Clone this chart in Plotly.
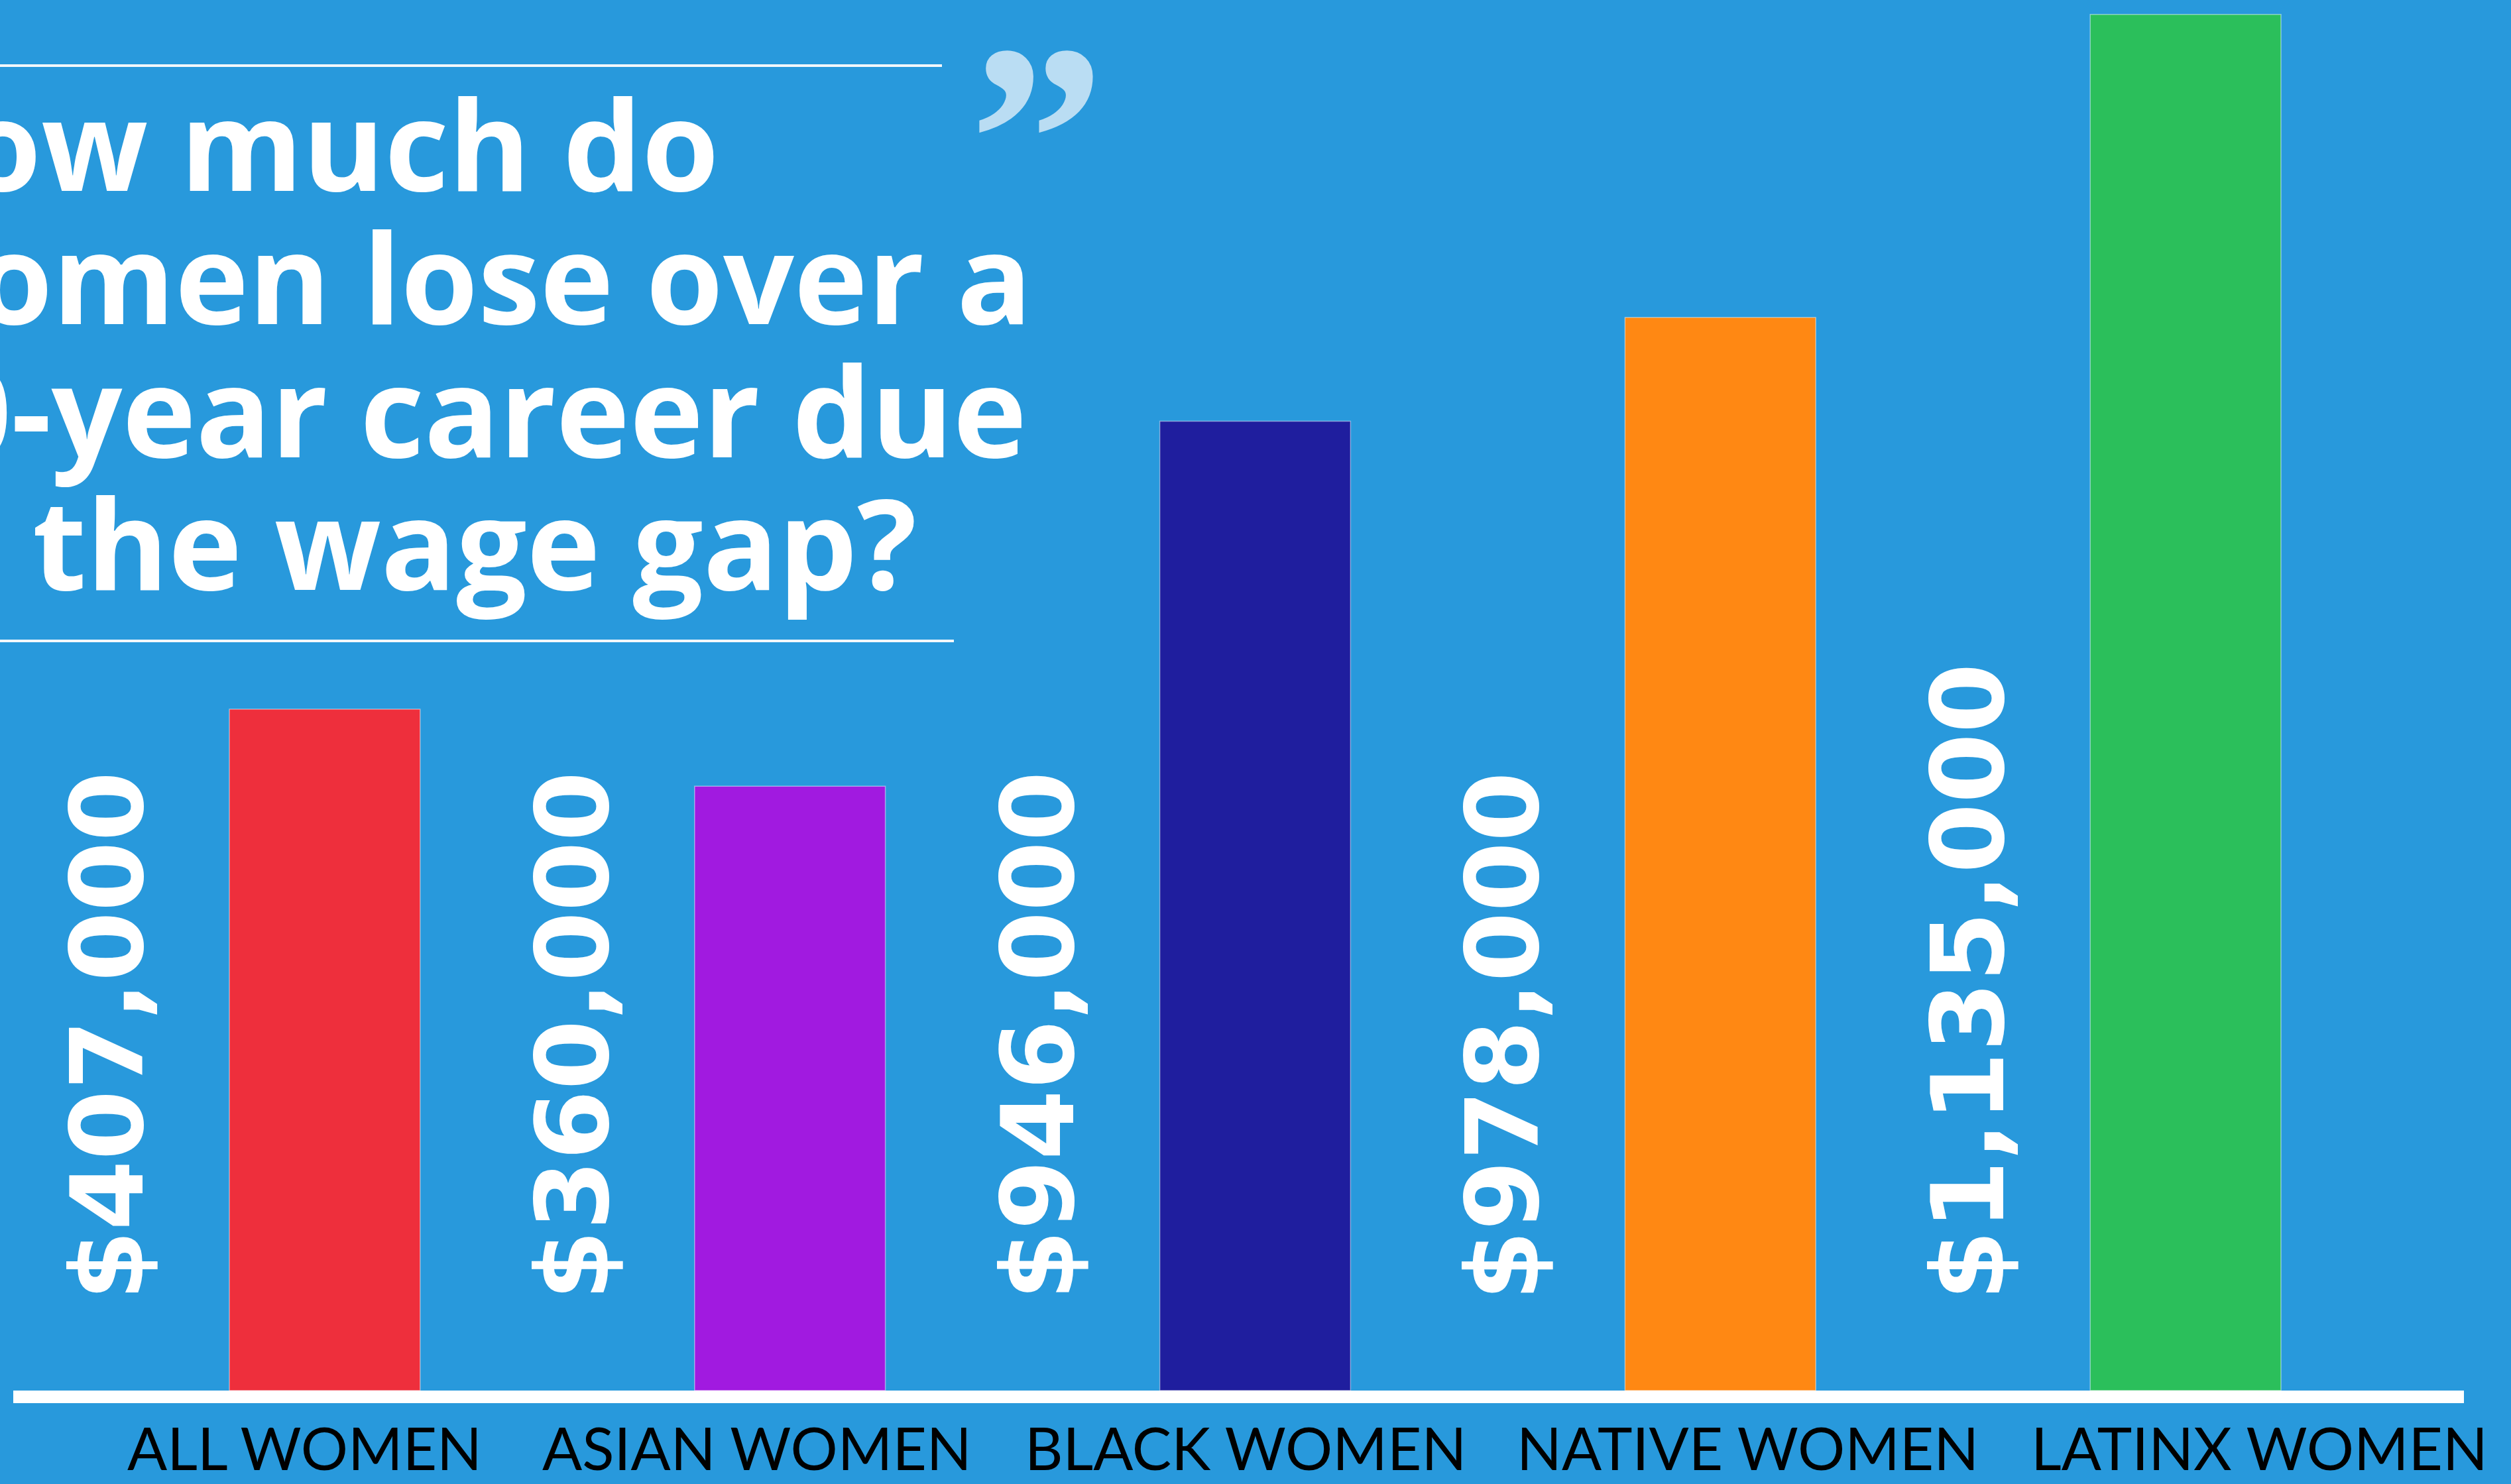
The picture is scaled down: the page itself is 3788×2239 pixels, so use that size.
import plotly.graph_objects as go

# ---------------- data ----------------
categories = ["ALL WOMEN", "ASIAN WOMEN", "BLACK WOMEN", "NATIVE WOMEN", "LATINX WOMEN"]
bar_heights = [407, 361, 579, 641, 822]          # bar heights as drawn in the picture
loss_values = [407000, 360000, 946000, 978000, 1135000]  # printed amounts
bar_colors = ["#EE2F3C", "#A11AE0", "#1F1E9E", "#FF8813", "#2BBF5B"]
title_lines = ["How much do", "women lose over a", "40-year career due", "to the wage gap?"]

# ---------------- layout helpers ----------------
W, H = 3788, 2239
ML, MR, MT, MB = 139, 140, 0, 141
PW, PH = W - ML - MR, H - MT - MB
BG = "#2899DC"


def px(x):
    return (x - ML) / PW


def py(y):
    return 1 - (y - MT) / PH


fig = go.Figure()
fig.add_trace(go.Bar(
    x=categories,
    y=bar_heights,
    marker=dict(color=bar_colors, line=dict(color="rgba(255,255,255,0.45)", width=1.5)),
    width=0.41,
    hoverinfo="skip",
))

annotations = []

# value labels (rotated, to the left of each bar)
for cat, val in zip(categories, loss_values):
    annotations.append(dict(
        x=cat, xref="x", xshift=-328,
        y=py(1964), yref="paper",
        text=f"${val:,}", textangle=-90,
        xanchor="center", yanchor="bottom",
        showarrow=False,
        font=dict(family="DejaVu Sans", size=152, color="white", weight=700),
    ))

# category labels
label_xshift = [-30, -50, -15, 41, 111]
for cat, sh in zip(categories, label_xshift):
    annotations.append(dict(
        x=cat, xref="x", xshift=sh,
        y=py(H), yref="paper",
        text=cat, xanchor="center", yanchor="bottom",
        showarrow=False,
        font=dict(family="Lato", size=89, color="black"),
    ))

# title lines
title_baselines = [288, 489, 690, 890]
TS = 188
for line, base in zip(title_lines, title_baselines):
    annotations.append(dict(
        x=px(-200), xref="paper",
        y=py(base - 0.388 * TS), yref="paper",
        text=line, xanchor="left", yanchor="middle",
        showarrow=False,
        font=dict(family="Open Sans", size=TS, color="white", weight=700),
    ))

# quote mark
QS = 410
annotations.append(dict(
    x=px(1564), xref="paper",
    y=py(96 + 0.68 * QS - 0.4 * QS), yref="paper",
    text="\u201D", xanchor="center", yanchor="middle",
    showarrow=False,
    font=dict(family="Liberation Serif", size=QS, color="#BADDF3", weight=700),
))

shapes = [
    # top rule
    dict(type="rect", xref="paper", yref="paper",
         x0=px(-10), x1=px(1421), y0=py(101), y1=py(97),
         fillcolor="#F2F7FB", line=dict(width=0)),
    # bottom rule
    dict(type="rect", xref="paper", yref="paper",
         x0=px(-10), x1=px(1439), y0=py(969), y1=py(965),
         fillcolor="#F2F7FB", line=dict(width=0)),
    # baseline
    dict(type="rect", xref="paper", yref="paper",
         x0=px(20), x1=px(3717), y0=py(2117), y1=py(2098),
         fillcolor="white", line=dict(width=0)),
]

fig.update_layout(
    width=W, height=H,
    margin=dict(l=ML, r=MR, t=MT, b=MB, pad=0),
    paper_bgcolor=BG, plot_bgcolor=BG,
    showlegend=False,
    annotations=annotations,
    shapes=shapes,
    xaxis=dict(showticklabels=False, showgrid=False, zeroline=False, showline=False,
               ticks="", range=[-0.5, 4.5]),
    yaxis=dict(showticklabels=False, showgrid=False, zeroline=False, showline=False,
               ticks="", range=[0, PH / (1028 / 407)]),
)

fig.write_html(
    "out.html",
    config={"displayModeBar": False},
    post_script="document.body.style.margin='0';document.body.style.overflow='hidden';",
)
